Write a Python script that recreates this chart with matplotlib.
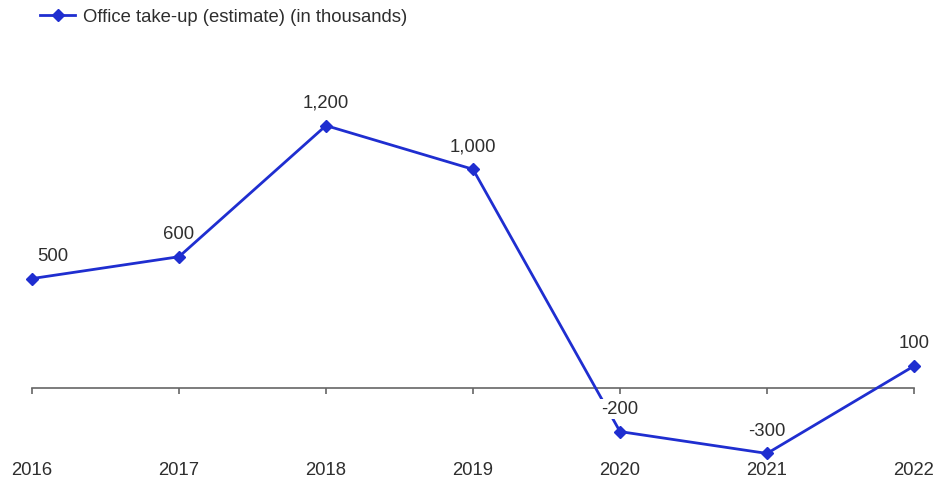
import matplotlib.pyplot as plt
from matplotlib.lines import Line2D

plt.rcParams['font.family'] = ['Liberation Sans', 'DejaVu Sans']

years = [2016, 2017, 2018, 2019, 2020, 2021, 2022]
take_up = [500, 600, 1200, 1000, -200, -300, 100]
labels = ['500', '600', '1,200', '1,000', '-200', '-300', '100']

BLUE = '#1f2ed0'
TXT = '#2e2e2e'
FS = 13.3

fig = plt.figure(figsize=(9.37, 4.87), dpi=100)
# axes placed so that x=2016..2022 spans px 32..914, y=-330..1500 spans px 460..60
ax = fig.add_axes([32 / 937, 1 - 460 / 487, (914 - 32) / 937, 400 / 487])
ax.set_xlim(2016, 2022)
ax.set_ylim(-330, 1500)

ax.plot(years, take_up, color=BLUE, lw=2, marker='D', ms=6, clip_on=False, zorder=3)

for i, (xv, yv, lab) in enumerate(zip(years, take_up, labels)):
    dx = 21 if i == 0 else 0
    bbox = dict(fc='white', ec='none', pad=1) if yv == -200 else None
    ax.annotate(lab, (xv, yv), xytext=(dx * 0.72, 10), textcoords='offset points',
                ha='center', va='bottom', fontsize=FS, color=TXT, bbox=bbox, zorder=4)

# zero axis line with ticks
for s in ['top', 'right', 'left']:
    ax.spines[s].set_visible(False)
ax.spines['bottom'].set_position(('data', 0))
ax.spines['bottom'].set_color('#666666')
ax.spines['bottom'].set_linewidth(1.2)
ax.set_xticks(years)
ax.tick_params(axis='x', direction='out', length=4, color='#666666', width=1.2,
               labelbottom=False)
ax.set_yticks([])

for xv in years:
    ax.text(xv, -0.027, str(xv), transform=ax.get_xaxis_transform(),
            ha='center', va='center', fontsize=FS, color=TXT)

handle = Line2D([], [], color=BLUE, lw=2, marker='D', ms=6)
fig.legend([handle], ['Office take-up (estimate) (in thousands)'],
           loc='center left', bbox_to_anchor=(40 / 937, 1 - 17 / 487),
           frameon=False, fontsize=FS, handlelength=1.9, handletextpad=0.43,
           labelcolor=TXT, borderaxespad=0, borderpad=0)

fig.savefig('out.png', dpi=100)
